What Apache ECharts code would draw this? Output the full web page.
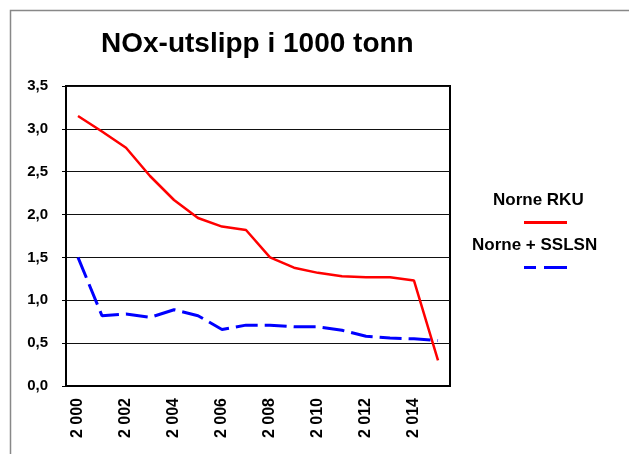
<!DOCTYPE html>
<html>
<head>
<meta charset="utf-8">
<script src="https://cdn.jsdelivr.net/npm/echarts@6/dist/echarts.min.js"></script>
<style>
  html, body { margin: 0; padding: 0; background: #fff; }
  #chart-container { width: 629px; height: 454px; }
</style>
</head>
<body>
<div id="chart-container"></div>
<script>
const years = [2000, 2001, 2002, 2003, 2004, 2005, 2006, 2007, 2008, 2009, 2010, 2011, 2012, 2013, 2014, 2015];
const norneRku = [3.15, 2.97, 2.78, 2.45, 2.17, 1.96, 1.86, 1.82, 1.5, 1.38, 1.32, 1.28, 1.27, 1.27, 1.23, 0.3];
const norneSslsn = [1.5, 0.82, 0.84, 0.8, 0.89, 0.82, 0.66, 0.71, 0.71, 0.69, 0.69, 0.65, 0.58, 0.56, 0.55, 0.53];
const seriesNames = ["Norne RKU", "Norne + SSLSN"];

(() => {
  const FONT = "Liberation Sans";
  var dom = document.getElementById("chart-container");
  var chart = echarts.init(dom, null, { renderer: "canvas" });

  const legendBase = {
    orient: "vertical",
    padding: 0,
    itemWidth: 0,
    itemHeight: 0,
    selectedMode: false,
    textStyle: { fontFamily: FONT },
  };

  const option = {
    animation: false,
    backgroundColor: "#fff",
    graphic: [
      {
        type: "rect",
        shape: { x: 10.5, y: 10.5, width: 700, height: 500 },
        style: { fill: "none", stroke: "#888", lineWidth: 1.5 },
        silent: true,
      },
    ],
    title: {
      text: "NOx-utslipp i 1000 tonn",
      left: 96,
      top: 25,
      textStyle: { fontFamily: FONT, fontSize: 28, fontWeight: "bold", color: "#000" },
    },
    legend: [
      Object.assign({}, legendBase, {
        data: [seriesNames[0]],
        left: 487,
        top: 192,
        formatter: (name) => `{t|${name}}\n{p| }{r| }`,
        textStyle: {
          fontFamily: FONT,
          rich: {
            t: { fontFamily: FONT, fontSize: 17, fontWeight: "bold", color: "#000", lineHeight: 22 },
            p: { width: 31, height: 3, lineHeight: 22 },
            r: { width: 43, height: 3, lineHeight: 22, backgroundColor: "#ff0000" },
          },
        },
      }),
      Object.assign({}, legendBase, {
        data: [seriesNames[1]],
        left: 466,
        top: 237,
        formatter: (name) => `{t|${name}}\n{p| }{b1| }{g| }{b2| }`,
        textStyle: {
          fontFamily: FONT,
          rich: {
            t: { fontFamily: FONT, fontSize: 17, fontWeight: "bold", color: "#000", lineHeight: 22 },
            p: { width: 52, height: 3, lineHeight: 22 },
            b1: { width: 12, height: 3, lineHeight: 22, backgroundColor: "#0000ff" },
            g: { width: 8, height: 3, lineHeight: 22 },
            b2: { width: 23, height: 3, lineHeight: 22, backgroundColor: "#0000ff" },
          },
        },
      }),
    ],
    grid: {
      left: 66,
      right: 179,
      top: 86,
      bottom: 68,
      show: true,
      borderColor: "#000",
      borderWidth: 2,
    },
    xAxis: {
      type: "category",
      boundaryGap: true,
      data: years.map(String),
      axisLine: { show: true, lineStyle: { color: "#000", width: 2 } },
      axisTick: { show: false },
      axisLabel: {
        interval: 1,
        rotate: 90,
        margin: 12,
        color: "#000",
        fontFamily: FONT,
        fontSize: 16,
        fontWeight: "bold",
        formatter: (v) => v.slice(0, 1) + " " + v.slice(1),
      },
    },
    yAxis: {
      type: "value",
      min: 0,
      max: 3.5,
      interval: 0.5,
      axisLine: { show: true, lineStyle: { color: "#000", width: 2 } },
      axisTick: { show: true, length: 4, lineStyle: { color: "#000" } },
      splitLine: { show: true, lineStyle: { color: "#111", width: 1 } },
      axisLabel: {
        margin: 18,
        color: "#000",
        fontFamily: FONT,
        fontSize: 15,
        fontWeight: "bold",
        formatter: (v) => v.toFixed(1).replace(".", ","),
      },
    },
    series: [
      {
        name: seriesNames[0],
        type: "line",
        data: norneRku,
        symbol: "none",
        color: "#ff0000",
        lineStyle: { color: "#ff0000", width: 2.5 },
      },
      {
        name: seriesNames[1],
        type: "line",
        data: norneSslsn,
        symbol: "none",
        color: "#0000ff",
        lineStyle: { color: "#0000ff", width: 3, type: [22, 7] },
      },
    ],
  };

  chart.setOption(option);
  window.addEventListener("resize", chart.resize);
})();
</script>
</body>
</html>
